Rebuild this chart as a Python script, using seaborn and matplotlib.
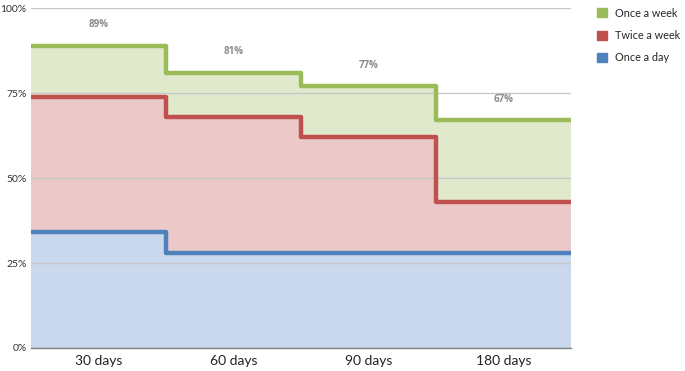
import matplotlib.pyplot as plt
import pandas as pd
import seaborn as sns

# Data (percent)
periods = ['30 days', '60 days', '90 days', '180 days']
once_a_week = [89, 81, 77, 67]
twice_a_week = [74, 68, 62, 43]
once_a_day = [34, 28, 28, 28]

series = [
  ('Once a week', once_a_week, '#9BBB59', '#E1E9CD'),
  ('Twice a week', twice_a_week, '#C0504D', '#ECC9C9'),
  ('Once a day', once_a_day, '#4F81BD', '#C9D8EC'),
]

sns.set_style('white')
plt.rcParams['font.family'] = ['Lato', 'DejaVu Sans']

# step data: repeat last value so the final step reaches the right edge
pos = list(range(len(periods) + 1))
df = pd.DataFrame({'pos': pos})
for name, vals, _, _ in series:
  df[name] = vals + [vals[-1]]

fig = plt.figure(figsize=(6.85, 3.71), dpi=100)
ax = fig.add_axes([0.045, 0.062, 0.789, 0.916])

for name, vals, line_c, fill_c in series:
  ax.fill_between(df['pos'], 0, df[name], step='post', color=fill_c, lw=0, zorder=1)

for y in [25, 50, 75, 100]:
  ax.axhline(y, color='#C8C8C8', lw=1, zorder=2)

for name, vals, line_c, fill_c in series:
  sns.lineplot(data=df, x='pos', y=name, ax=ax, color=line_c, lw=3.2,
               drawstyle='steps-post', label=name, zorder=3,
               solid_joinstyle='round', solid_capstyle='butt')

# value labels above the top series
for i, v in enumerate(once_a_week):
  ax.annotate(f'{v}%', (i + 0.5, v), xytext=(0, 11), textcoords='offset points',
              ha='center', va='bottom', fontsize=7, fontweight='bold', color='#8C8C8C',
              family=['Open Sans', 'DejaVu Sans'])

ax.set_xlim(0, len(periods))
ax.set_ylim(0, 100)
ax.set_xticks([i + 0.5 for i in range(len(periods))])
ax.set_xticklabels(periods, fontsize=10, color='#222222')
ax.set_yticks([0, 25, 50, 75, 100])
ax.set_yticklabels(['0%', '25%', '50%', '75%', '100%'], fontsize=7.5, color='#333333')
ax.tick_params(axis='y', length=0, pad=3)
ax.tick_params(axis='x', length=0, pad=5)
ax.set_xlabel('')
ax.set_ylabel('')
for s in ['top', 'right', 'left']:
  ax.spines[s].set_visible(False)
ax.spines['bottom'].set_color('#7F7F7F')
ax.spines['bottom'].set_linewidth(1)
ax.spines['bottom'].set_zorder(4)

handles = [plt.Rectangle((0, 0), 1, 1, color=c) for _, _, c, _ in series]
ax.legend(handles, [n for n, _, _, _ in series], loc='upper left',
          bbox_to_anchor=(1.03, 1.03), frameon=False, fontsize=7.8,
          handlelength=0.9, handleheight=0.9, handletextpad=0.7, labelspacing=1.05)

fig.savefig('out.png', dpi=100)
